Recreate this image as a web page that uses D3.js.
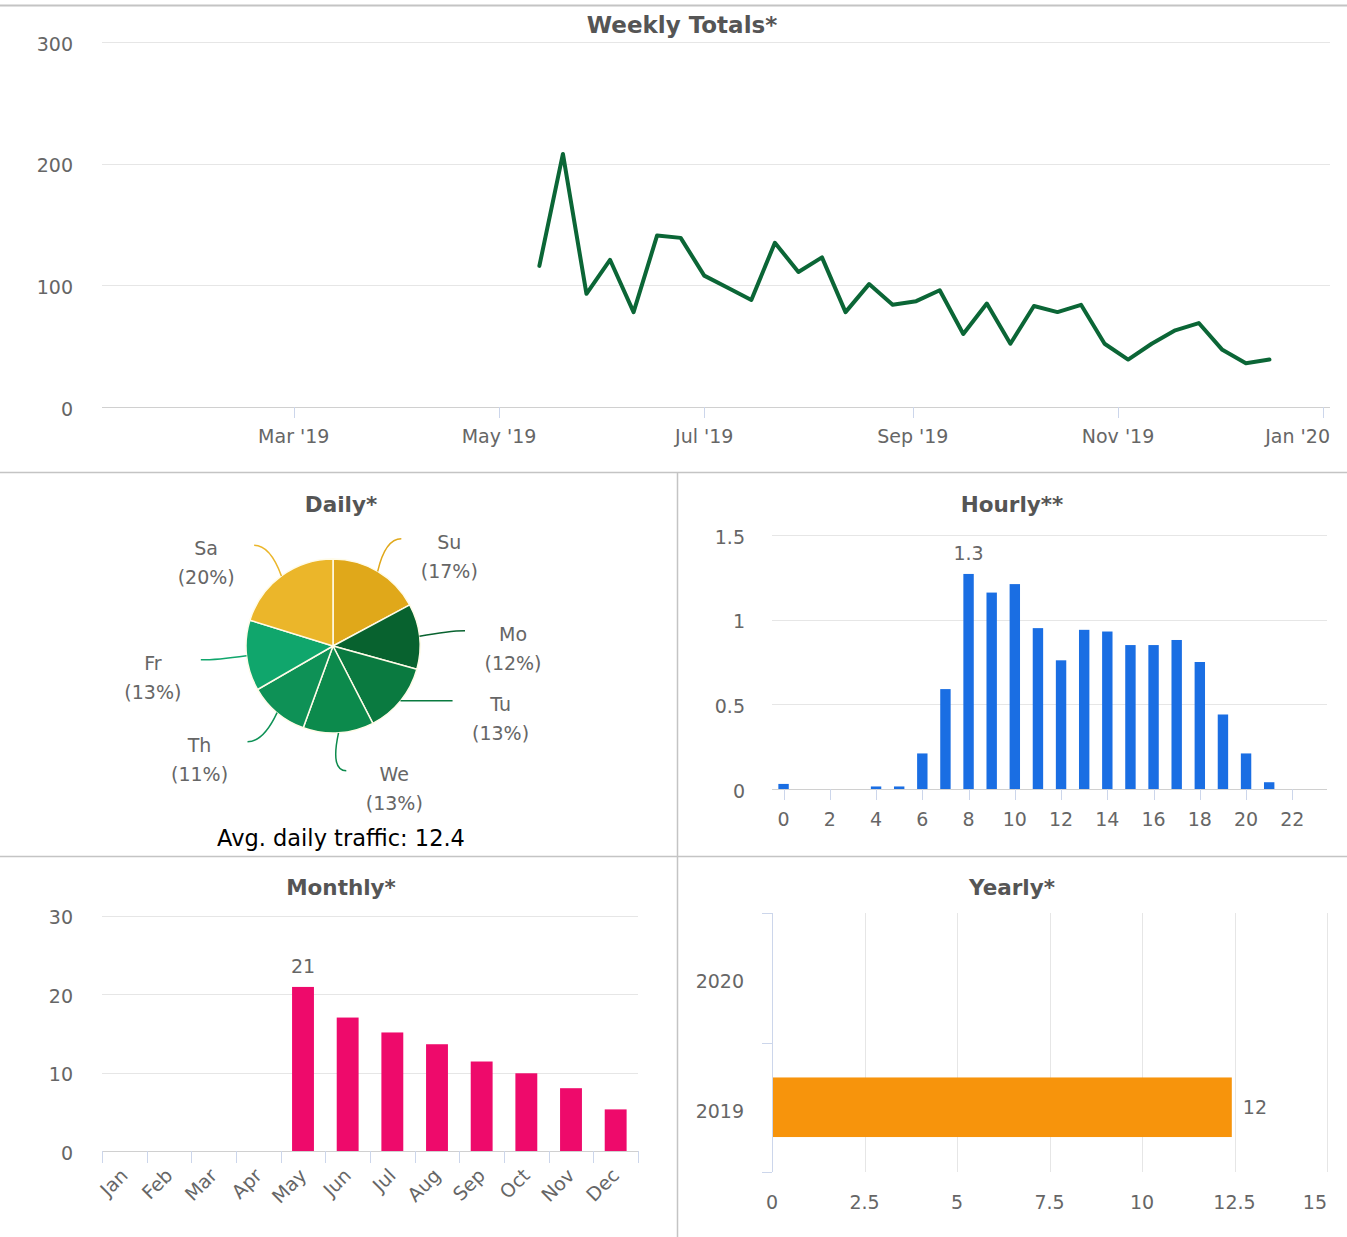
<!DOCTYPE html>
<html>
<head>
<meta charset="utf-8">
<script src="https://cdn.jsdelivr.net/npm/d3@7"></script>
<style>
  body { margin: 0; background: #fff; }
  svg { display: block; font-family: "DejaVu Sans", sans-serif; }
  .lbl { fill: #666; font-size: 19px; }
  .ttl { fill: #555; font-size: 21.5px; font-weight: bold; }
</style>
</head>
<body>
<script>
// weekly totals, one point per week starting 13 May 2019
const weekStart = new Date(2019, 4, 13)
const weeklyTotals = [116, 208, 93, 121, 78, 141, 139, 108, 98, 88, 135, 111, 123, 78, 101, 84,
  87, 96, 60, 85, 52, 83, 78, 84, 52, 39, 52, 63, 69, 47, 36, 39]

const days = ["Su", "Mo", "Tu", "We", "Th", "Fr", "Sa"]
const dailyShare = [17, 12, 13, 13, 11, 13, 20]
const avgDaily = 12.4

const hours = d3.range(24)
const hourlyAvg = [0.03, 0, 0, 0, 0.015, 0.015, 0.21, 0.59, 1.27, 1.16, 1.21, 0.95, 0.76, 0.94,
  0.93, 0.85, 0.85, 0.88, 0.75, 0.44, 0.21, 0.04, 0, 0]

const months = ["Jan", "Feb", "Mar", "Apr", "May", "Jun", "Jul", "Aug", "Sep", "Oct", "Nov", "Dec"]
const monthlyAvg = [0, 0, 0, 0, 20.9, 17.0, 15.1, 13.6, 11.4, 9.9, 8.0, 5.3]

const years = ["2020", "2019"]
const yearlyAvg = [0, 12.4]

const dayColours = ["#e0a81a", "#08622f", "#0a7a40", "#0c8a4c", "#0e9156", "#10a66c", "#ebb62a"]
const gridCol = "#e6e6e6"
const axisCol = "#ccd6eb"

const W = 1347, H = 1237
const svg = d3.select("body").append("svg")
  .attr("width", W).attr("height", H)
  .attr("viewBox", [0, 0, W, H])

// panel borders
svg.append("line").attr("x1", 0).attr("x2", W).attr("y1", 5.5).attr("y2", 5.5)
  .attr("stroke", "#c4c4c4").attr("stroke-width", 2)
svg.append("line").attr("x1", 0).attr("x2", W).attr("y1", 472.5).attr("y2", 472.5)
  .attr("stroke", "#c4c4c4").attr("stroke-width", 1.5)
svg.append("line").attr("x1", 0).attr("x2", W).attr("y1", 856.5).attr("y2", 856.5)
  .attr("stroke", "#c4c4c4").attr("stroke-width", 1.5)
svg.append("line").attr("x1", 677.5).attr("x2", 677.5).attr("y1", 472).attr("y2", H)
  .attr("stroke", "#c4c4c4").attr("stroke-width", 1.5)

function title(x, y, t, size) {
  const el = svg.append("text").attr("class", "ttl").attr("x", x).attr("y", y)
    .attr("text-anchor", "middle").text(t)
  if (size) el.style("font-size", size)
}

function yGrid(y, ticks, x0, x1, lx, fmt) {
  const g = svg.append("g")
  g.selectAll("line").data(ticks).join("line")
    .attr("x1", x0).attr("x2", x1)
    .attr("y1", d => Math.round(y(d)) + 0.5).attr("y2", d => Math.round(y(d)) + 0.5)
    .attr("stroke", d => d === 0 ? "#d0d0d0" : gridCol)
  g.selectAll("text").data(ticks).join("text")
    .attr("class", "lbl").attr("x", lx).attr("y", d => y(d))
    .attr("dy", "0.45em").attr("text-anchor", "end")
    .text(fmt)
}

// ---------- weekly totals ----------
{
  const x = d3.scaleTime()
    .domain([new Date(2019, 0, 3), new Date(2020, 0, 3)])
    .range([102, 1330])
  const y = d3.scaleLinear().domain([0, 300]).range([407, 42])
  const data = weeklyTotals.map((v, i) => ({ date: d3.timeWeek.offset(weekStart, i), v }))

  title(682, 33, "Weekly Totals*", "23px")
  yGrid(y, [0, 100, 200, 300], 102, 1330, 73, d => d)

  const ticks = x.ticks(d3.timeMonth.every(2))
  const fmt = d3.timeFormat("%b '%y")
  svg.append("g").selectAll("line").data(ticks).join("line")
    .attr("x1", d => Math.round(x(d)) + 0.5).attr("x2", d => Math.round(x(d)) + 0.5)
    .attr("y1", 407).attr("y2", 418).attr("stroke", axisCol)
  // last label is pushed inside the plot, as the original does
  svg.append("g").selectAll("text").data(ticks).join("text")
    .attr("class", "lbl")
    .attr("x", (d, i) => i === ticks.length - 1 ? 1330 : x(d)).attr("y", 443)
    .attr("text-anchor", (d, i) => i === ticks.length - 1 ? "end" : "middle").text(fmt)

  svg.append("path").datum(data)
    .attr("fill", "none").attr("stroke", "#0b6636").attr("stroke-width", 4)
    .attr("stroke-linejoin", "round").attr("stroke-linecap", "round")
    .attr("d", d3.line().x(d => x(d.date)).y(d => y(d.v)))
}

// ---------- daily pie ----------
{
  const cx = 333, cy = 646, r = 87, lrx = 133, lry = 125, gap = 70
  title(341, 512, "Daily*")
  const total = d3.sum(dailyShare)
  const arcs = d3.pie().sort(null)(dailyShare)
  const arc = d3.arc().innerRadius(0).outerRadius(r)
  const g = svg.append("g").attr("transform", `translate(${cx},${cy})`)

  g.selectAll("path.slice").data(arcs).join("path")
    .attr("class", "slice")
    .attr("d", arc)
    .attr("fill", (d, i) => dayColours[i])
    .attr("stroke", "#fffbe8").attr("stroke-width", 1.5)

  // label anchors: mid-angle, then spread apart on each side so two-line labels don't overlap
  const labels = arcs.map((d, i) => {
    const a = (d.startAngle + d.endAngle) / 2
    return { i, d, a, side: Math.sin(a) >= 0 ? 1 : -1, y: -Math.cos(a) * lry }
  })
  ;[1, -1].forEach(side => {
    const ls = labels.filter(l => l.side === side).sort((p, q) => q.y - p.y)
    for (let k = 1; k < ls.length; k++) {
      if (ls[k - 1].y - ls[k].y < gap) ls[k].y = ls[k - 1].y - gap
    }
  })

  labels.forEach(l => {
    const sx = Math.sin(l.a) * r, sy = -Math.cos(l.a) * r
    const k = Math.min(Math.abs(l.y) / lry, 0.995)
    const ex = l.side * lrx * Math.sqrt(1 - k * k), ey = l.y
    g.append("path")
      .attr("d", `M${sx},${sy} Q${ex - l.side * 16},${ey} ${ex},${ey}`)
      .attr("fill", "none").attr("stroke", dayColours[l.i]).attr("stroke-width", 1.5)
    const t = g.append("text").attr("class", "lbl").attr("text-anchor", "middle")
    t.append("tspan").attr("x", ex + l.side * 48).attr("y", ey + 10).text(days[l.i])
    t.append("tspan").attr("x", ex + l.side * 48).attr("y", ey + 39)
      .text(`(${Math.round(l.d.data / total * 100)}%)`)
  })

  svg.append("text").attr("x", 341).attr("y", 846).attr("text-anchor", "middle")
    .attr("fill", "#000").style("font-size", "22.5px")
    .text(`Avg. daily traffic: ${avgDaily}`)
}

// ---------- hourly ----------
{
  const x = d3.scaleBand().domain(hours).range([772, 1327])
  const y = d3.scaleLinear().domain([0, 1.5]).range([789, 535])
  title(1012, 512, "Hourly**")
  yGrid(y, [0, 0.5, 1, 1.5], 772, 1327, 745, d => d)

  const ticks = hours.filter(h => h % 2 === 0)
  const cxh = h => x(h) + x.bandwidth() / 2
  svg.append("g").selectAll("line").data(ticks).join("line")
    .attr("x1", d => Math.round(cxh(d)) + 0.5).attr("x2", d => Math.round(cxh(d)) + 0.5)
    .attr("y1", 789).attr("y2", 800).attr("stroke", axisCol)
  svg.append("g").selectAll("text").data(ticks).join("text")
    .attr("class", "lbl").attr("x", cxh).attr("y", 826)
    .attr("text-anchor", "middle").text(d => d)

  const bw = x.bandwidth() * 0.45
  svg.append("g").selectAll("rect").data(hours).join("rect")
    .attr("x", h => cxh(h) - bw / 2).attr("width", bw)
    .attr("y", h => y(hourlyAvg[h])).attr("height", h => y(0) - y(hourlyAvg[h]))
    .attr("fill", "#1a6ee3")

  const top = d3.maxIndex(hourlyAvg)
  svg.append("text").attr("class", "lbl").attr("x", cxh(top)).attr("y", y(hourlyAvg[top]) - 14)
    .attr("text-anchor", "middle").attr("fill", "#555").text(d3.format(".1f")(hourlyAvg[top]))
}

// ---------- monthly ----------
{
  const x = d3.scaleBand().domain(months).range([102, 638])
  const y = d3.scaleLinear().domain([0, 30]).range([1151, 915.5])
  title(341, 895, "Monthly*")
  yGrid(y, [0, 10, 20, 30], 102, 638, 73, d => d)

  const edges = months.map(m => x(m)).concat([638])
  svg.append("g").selectAll("line").data(edges).join("line")
    .attr("x1", d => Math.round(d) + 0.5).attr("x2", d => Math.round(d) + 0.5)
    .attr("y1", 1151).attr("y2", 1163).attr("stroke", axisCol)
  svg.append("g").selectAll("text").data(months).join("text")
    .attr("class", "lbl")
    .attr("transform", m => `translate(${x(m) + x.bandwidth() / 2},${1172}) rotate(-45)`)
    .attr("text-anchor", "end").attr("dy", "0.35em").text(m => m)

  const bw = x.bandwidth() * 0.49
  svg.append("g").selectAll("rect").data(months).join("rect")
    .attr("x", (m, i) => x(m) + (x.bandwidth() - bw) / 2).attr("width", bw)
    .attr("y", (m, i) => y(monthlyAvg[i])).attr("height", (m, i) => y(0) - y(monthlyAvg[i]))
    .attr("fill", "#ee0a6b")

  const top = d3.maxIndex(monthlyAvg)
  svg.append("text").attr("class", "lbl")
    .attr("x", x(months[top]) + x.bandwidth() / 2).attr("y", y(monthlyAvg[top]) - 14)
    .attr("text-anchor", "middle").attr("fill", "#556").text(d3.format(".0f")(monthlyAvg[top]))
}

// ---------- yearly ----------
{
  const x = d3.scaleLinear().domain([0, 15]).range([772, 1327])
  const y = d3.scaleBand().domain(years).range([913, 1172])
  title(1012, 895, "Yearly*")

  const ticks = [0, 2.5, 5, 7.5, 10, 12.5, 15]
  svg.append("g").selectAll("line").data(ticks.slice(1)).join("line")
    .attr("x1", d => Math.round(x(d)) + 0.5).attr("x2", d => Math.round(x(d)) + 0.5)
    .attr("y1", 913).attr("y2", 1172).attr("stroke", gridCol)
  svg.append("g").selectAll("text").data(ticks).join("text")
    .attr("class", "lbl").attr("x", x).attr("y", 1209)
    .attr("text-anchor", (d, i) => i === ticks.length - 1 ? "end" : "middle").text(d => d)

  // category axis
  svg.append("line").attr("x1", 772.5).attr("x2", 772.5).attr("y1", 913).attr("y2", 1172)
    .attr("stroke", axisCol)
  const edges = years.map(d => y(d)).concat([1172])
  svg.append("g").selectAll("line").data(edges).join("line")
    .attr("x1", 762).attr("x2", 772)
    .attr("y1", d => Math.round(d) + 0.5).attr("y2", d => Math.round(d) + 0.5)
    .attr("stroke", axisCol)
  svg.append("g").selectAll("text").data(years).join("text")
    .attr("class", "lbl").attr("x", 744).attr("y", d => y(d) + y.bandwidth() / 2 + 4)
    .attr("dy", "0.35em").attr("text-anchor", "end").text(d => d)

  const bh = y.bandwidth() * 0.46
  svg.append("g").selectAll("rect").data(years).join("rect")
    .attr("x", x(0) + 1).attr("width", (d, i) => x(yearlyAvg[i]) - x(0))
    .attr("y", d => y(d) + (y.bandwidth() - bh) / 2).attr("height", bh)
    .attr("fill", "#f7940c")

  svg.append("g").selectAll("text.val").data(years.filter((d, i) => yearlyAvg[i] > 0)).join("text")
    .attr("class", "lbl")
    .attr("x", d => x(yearlyAvg[years.indexOf(d)]) + 12)
    .attr("y", d => y(d) + y.bandwidth() / 2).attr("dy", "0.35em")
    .text(d => d3.format(".0f")(yearlyAvg[years.indexOf(d)]))
}
</script>
</body>
</html>
